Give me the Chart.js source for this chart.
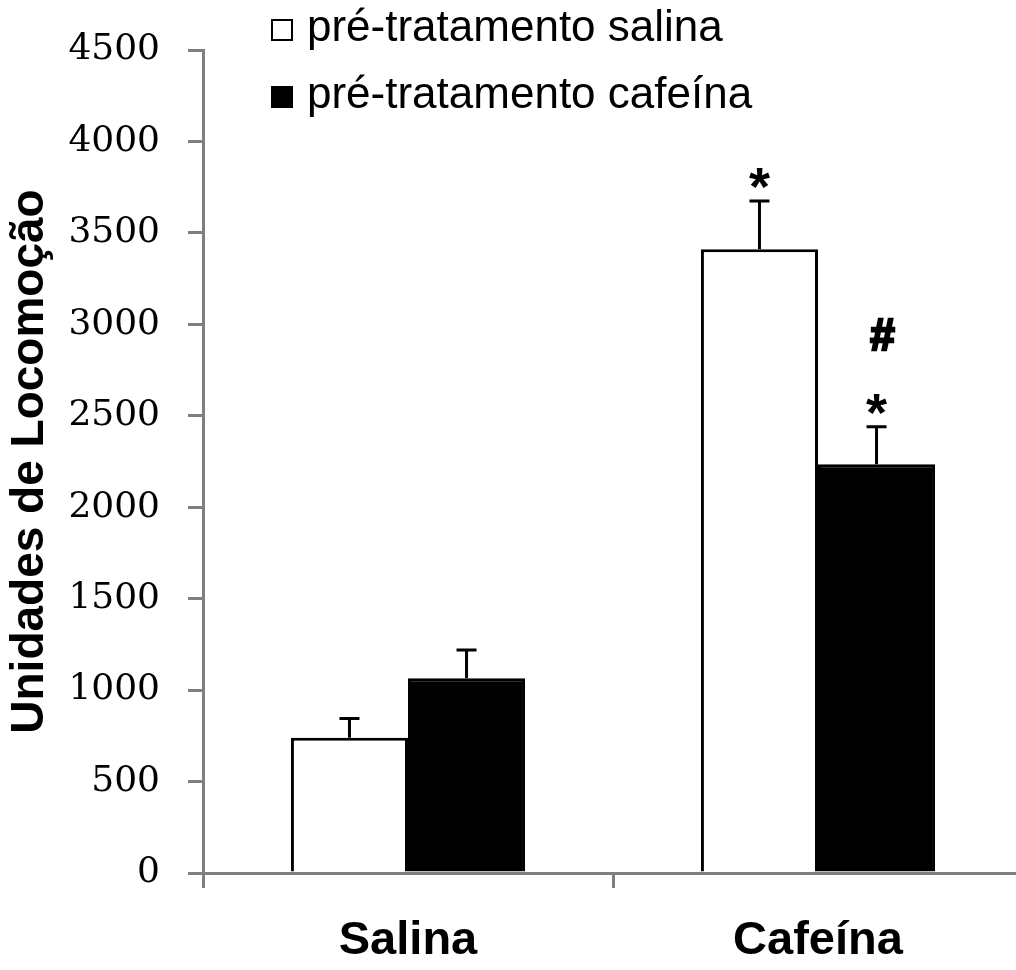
<!DOCTYPE html>
<html>
<head>
<meta charset="utf-8">
<script src="https://cdn.jsdelivr.net/npm/chart.js@4.4.1/dist/chart.umd.min.js"></script>
<style>
  html, body { margin: 0; padding: 0; background: #fff; overflow: hidden; }
  #wrap { width: 1026px; height: 970px; }
</style>
</head>
<body>
<div id="wrap"><canvas id="chart"></canvas></div>
<script>
// --- Data ---
const categories = ['Salina', 'Cafeína'];
const seriesNames = ['pré-tratamento salina', 'pré-tratamento cafeína'];
const salinaValues = [740, 3410];
const salinaErrors = [105, 265];
const cafeinaValues = [1065, 2235];
const cafeinaErrors = [155, 205];
const salinaMarks = ['', '*'];
const cafeinaMarks = ['', '*'];
const cafeinaHash = ['', '#'];
const yTicks = [0, 500, 1000, 1500, 2000, 2500, 3000, 3500, 4000, 4500];

const AXIS = '#7f7f7f';
const SANS = "'Liberation Sans', Arial, sans-serif";

// --- Error bars + significance marks ---
const errorBars = {
  id: 'errorBars',
  afterDatasetsDraw(chart) {
    const ctx = chart.ctx;
    const y = chart.scales.y;
    ctx.save();
    ctx.strokeStyle = '#000';
    ctx.fillStyle = '#000';
    ctx.textAlign = 'center';
    ctx.textBaseline = 'alphabetic';
    chart.data.datasets.forEach((ds, i) => {
      const meta = chart.getDatasetMeta(i);
      meta.data.forEach((bar, j) => {
        const top = y.getPixelForValue(ds.data[j] + ds.errors[j]);
        ctx.lineWidth = 3;
        ctx.beginPath();
        ctx.moveTo(bar.x, bar.y);
        ctx.lineTo(bar.x, top);
        ctx.moveTo(bar.x - 10, top);
        ctx.lineTo(bar.x + 10, top);
        ctx.stroke();
        if (ds.marks[j]) {
          ctx.font = 'bold 54px ' + SANS;
          ctx.fillText(ds.marks[j], bar.x, top + 4);
        }
        if (ds.hash && ds.hash[j]) {
          ctx.font = 'bold 44px ' + SANS;
          ctx.lineWidth = 2.5;
          ctx.fillText(ds.hash[j], bar.x + 6, top - 77);
          ctx.strokeText(ds.hash[j], bar.x + 6, top - 77);
        }
      });
    });
    ctx.restore();
  }
};

// --- Legend (top left, next to axis) ---
const legendBox = {
  id: 'legendBox',
  afterDraw(chart) {
    const ctx = chart.ctx;
    ctx.save();
    ctx.font = '44px ' + SANS;
    ctx.fillStyle = '#000';
    ctx.textAlign = 'left';
    ctx.textBaseline = 'alphabetic';
    // hollow square
    ctx.strokeStyle = '#000';
    ctx.lineWidth = 2;
    ctx.strokeRect(272, 20, 20, 20);
    ctx.fillText(seriesNames[0], 307, 41);
    // filled square
    ctx.fillRect(271, 86, 22, 22);
    ctx.fillText(seriesNames[1], 307, 108);
    ctx.restore();
  }
};

new Chart(document.getElementById('chart'), {
  type: 'bar',
  data: {
    labels: categories,
    datasets: [
      {
        label: seriesNames[0],
        data: salinaValues,
        errors: salinaErrors,
        marks: salinaMarks,
        backgroundColor: '#fff',
        borderColor: '#000',
        borderWidth: 3
      },
      {
        label: seriesNames[1],
        data: cafeinaValues,
        errors: cafeinaErrors,
        marks: cafeinaMarks,
        hash: cafeinaHash,
        backgroundColor: '#000',
        borderColor: '#000',
        borderWidth: 3
      }
    ]
  },
  options: {
    responsive: true,
    maintainAspectRatio: false,
    animation: false,
    layout: { padding: { top: 50, right: 3, bottom: 0, left: 0 } },
    datasets: { bar: { categoryPercentage: 0.571, barPercentage: 1 } },
    plugins: { legend: { display: false }, tooltip: { enabled: false } },
    scales: {
      x: {
        offset: true,
        grid: { offset: true, drawOnChartArea: false, drawTicks: true, tickLength: 15, color: AXIS, lineWidth: 3 },
        border: { display: true, color: AXIS, width: 3 },
        ticks: { color: '#000', padding: 25, font: { family: SANS, size: 47, weight: 'bold' } },
        afterFit: s => { s.height = 97; }
      },
      y: {
        min: 0,
        max: 4500,
        afterBuildTicks: s => { s.ticks = yTicks.map(v => ({ value: v })); },
        grid: { drawOnChartArea: false, drawTicks: true, tickLength: 15, color: AXIS, lineWidth: 3 },
        border: { display: true, color: AXIS, width: 3 },
        ticks: {
          color: '#000',
          padding: 28,
          font: { family: "'DejaVu Serif', serif", size: 36 },
          callback: v => String(v)
        },
        title: {
          display: true,
          text: 'Unidades de Locomoção',
          color: '#000',
          padding: { top: 3, bottom: 0 },
          font: { family: SANS, size: 46, weight: 'bold' }
        },
        afterFit: s => { s.width = 203; }
      }
    }
  },
  plugins: [errorBars, legendBox]
});
</script>
</body>
</html>
